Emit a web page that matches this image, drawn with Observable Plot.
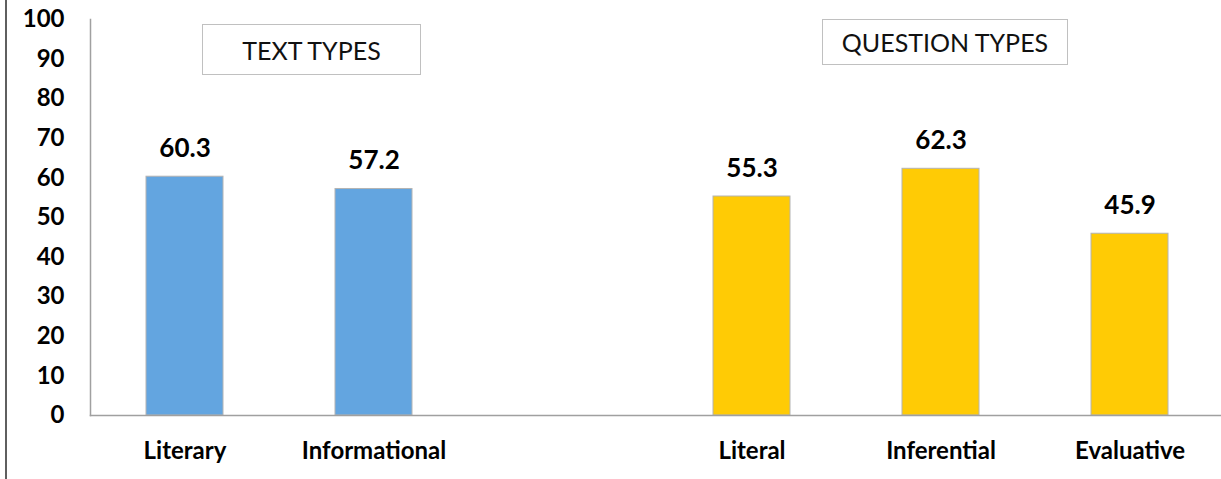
<!DOCTYPE html>
<html>
<head>
<meta charset="utf-8">
<script src="https://cdn.jsdelivr.net/npm/d3@7"></script>
<script src="https://cdn.jsdelivr.net/npm/@observablehq/plot@0.6"></script>
<style>
  html, body { margin: 0; padding: 0; background: #fff; }
  #wrap { position: relative; width: 1221px; height: 479px; overflow: hidden; }
  #edge { position: absolute; left: 5px; top: 0; width: 2px; height: 479px; background: #5f5f5f; }
  .group-title {
    position: absolute; box-sizing: border-box;
    border: 1.5px solid #c0c0c0; background: #fff;
    font-family: Lato, "Open Sans", sans-serif; font-size: 25px; color: #111;
    display: flex; align-items: center; justify-content: center;
  }
</style>
</head>
<body>
<div id="wrap"><div id="edge"></div></div>
<script>
// Mean scores by text type and by question type
const textTypes = ["Literary", "Informational"];
const textScores = [60.3, 57.2];
const questionTypes = ["Literal", "Inferential", "Evaluative"];
const questionScores = [55.3, 62.3, 45.9];
const groupTitles = ["TEXT TYPES", "QUESTION TYPES"];
const groupColors = ["#63a5e0", "#ffcb05"];
const yTicks = [0, 10, 20, 30, 40, 50, 60, 70, 80, 90, 100];

// an empty slot separates the two groups on the x axis
const xDomain = [...textTypes, " ", ...questionTypes];

const rows = [
  ...textTypes.map((c, i) => ({category: c, score: textScores[i], group: groupTitles[0]})),
  ...questionTypes.map((c, i) => ({category: c, score: questionScores[i], group: groupTitles[1]}))
];

const chart = Plot.plot({
  width: 1221,
  height: 479,
  marginLeft: 90,
  marginRight: 0,
  marginTop: 19,
  marginBottom: 64,
  style: {fontFamily: "Lato, 'Open Sans', sans-serif", fontSize: "24px", fontWeight: "bold", color: "#000", background: "transparent"},
  x: {domain: xDomain, range: [89.5, 1225], paddingInner: 0.593, paddingOuter: 0.2965, label: null},
  y: {domain: [0, 100], label: null},
  color: {domain: groupTitles, range: groupColors},
  marks: [
    Plot.barY(rows, {x: "category", y: "score", fill: "group", stroke: "#b4b4b4", strokeWidth: 1}),
    Plot.text(rows, {x: "category", y: "score", text: d => d.score.toFixed(1), dy: -28, fontSize: 26, fontWeight: "bold", fill: "#000"}),
    Plot.frame({anchor: "left", stroke: "#a0a0a0", strokeWidth: 1.5}),
    Plot.frame({anchor: "bottom", stroke: "#a0a0a0", strokeWidth: 1.5}),
    Plot.axisY({ticks: yTicks, tickSize: 0, tickPadding: 26, label: null, fill: "#000"}),
    Plot.axisX({tickSize: 0, tickPadding: 26, label: null, fill: "#000"})
  ]
});

const wrap = document.getElementById("wrap");
wrap.insertBefore(chart, wrap.firstChild);
chart.style.position = "absolute";
chart.style.left = "0";
chart.style.top = "0";

// group captions in framed boxes
const boxes = [
  {left: 202, top: 24, width: 219, height: 51},
  {left: 822, top: 19, width: 246, height: 46}
];
groupTitles.forEach((t, i) => {
  const d = document.createElement("div");
  d.className = "group-title";
  Object.assign(d.style, {left: boxes[i].left + "px", top: boxes[i].top + "px", width: boxes[i].width + "px", height: boxes[i].height + "px"});
  d.textContent = t;
  wrap.appendChild(d);
});
</script>
</body>
</html>
